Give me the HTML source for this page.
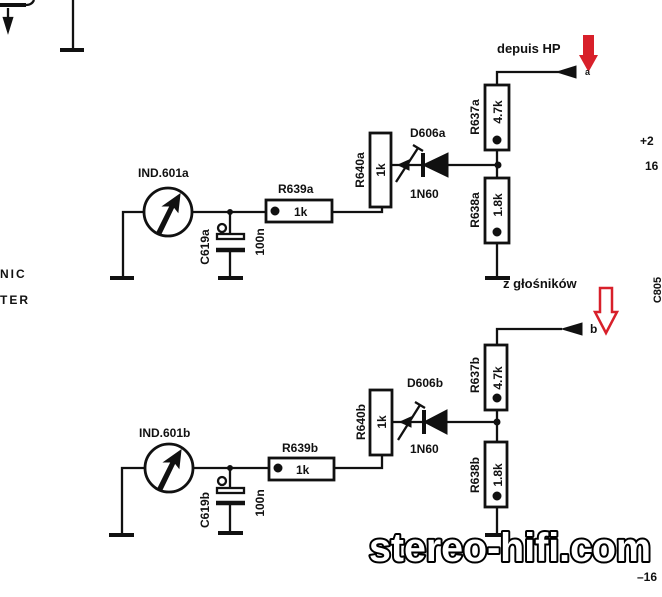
<!DOCTYPE html>
<html><head><meta charset="utf-8"><style>
html,body{margin:0;padding:0;background:#fff;width:662px;height:597px;overflow:hidden}
svg{display:block}
text{font-family:"Liberation Sans",sans-serif;font-weight:bold;fill:#111}
</style></head><body>
<svg width="662" height="597" viewBox="0 0 662 597" xmlns="http://www.w3.org/2000/svg">
<g stroke="#111" stroke-width="2.3" fill="none">
<path d="M0,5 H26" stroke-width="4"/>
<path d="M26,5 q6,0 8,-5" />
<path d="M8,8 V28"/>
<polygon points="4,18 12,18 8,31" fill="#111"/>
<path d="M73,0 V50"/>
<path d="M60,50 H84" stroke-width="4"/>

<path d="M123,278 V212 H144"/>
<path d="M110,278 H134" stroke-width="4"/>
<circle cx="168" cy="212" r="24" stroke-width="2.8"/>
<path d="M192,212 H266"/>
<path d="M230,212 V235"/>
<circle cx="222" cy="228" r="4"/>
<rect x="217" y="234" width="27" height="5" stroke-width="2.3"/>
<path d="M216,250 H245" stroke-width="4.5"/>
<path d="M230,250 V278"/>
<path d="M218,278 H243" stroke-width="4"/>
<rect x="266" y="200" width="66" height="22" stroke-width="2.8"/>
<path d="M332,212 H382 V207"/>
<rect x="370" y="133" width="21" height="74" stroke-width="2.8"/>
<path d="M391,165 H498"/>
<path d="M423,153 V177" stroke-width="4"/>
<path d="M396,182 L418,148 M413,145 L423,151"/>
<path d="M497,85 V72 H560"/>
<path d="M497,150 V178"/>
<rect x="485" y="85" width="24" height="65" stroke-width="2.8"/>
<rect x="485" y="178" width="24" height="65" stroke-width="2.8"/>
<path d="M497,243 V278"/>
<path d="M485,278 H510" stroke-width="4"/>

<path d="M122,535 V468 H144"/>
<path d="M109,535 H134" stroke-width="4"/>
<circle cx="169" cy="468" r="24" stroke-width="2.8"/>
<path d="M193,468 H269"/>
<path d="M230,468 V488"/>
<circle cx="222" cy="481" r="4"/>
<rect x="217" y="488" width="27" height="5" stroke-width="2.3"/>
<path d="M216,503 H245" stroke-width="4.5"/>
<path d="M230,503 V533"/>
<path d="M218,533 H243" stroke-width="4"/>
<rect x="269" y="458" width="65" height="22" stroke-width="2.8"/>
<path d="M334,468 H382 V455"/>
<rect x="370" y="390" width="22" height="65" stroke-width="2.8"/>
<path d="M392,422 H497"/>
<path d="M424,410 V434" stroke-width="4"/>
<path d="M398,440 L420,405 M415,402 L425,408"/>
<path d="M497,345 V329 H562"/>
<path d="M497,410 V442"/>
<rect x="485" y="345" width="22" height="65" stroke-width="2.8"/>
<rect x="485" y="442" width="22" height="65" stroke-width="2.8"/>
<path d="M497,507 V535"/>
<path d="M485,535 H510" stroke-width="4"/>
</g>

<g fill="#111" stroke="#111" stroke-width="1">
<polygon points="157,232 170,206 163,206 180,194 178,212 174,207 161,234"/>
<circle cx="230" cy="212" r="2.5"/>
<circle cx="275" cy="211" r="4"/>
<polygon points="423,165 448,153 448,177"/>
<polygon points="398,165 409,160 409,170"/>
<circle cx="498" cy="165" r="3"/>
<circle cx="497" cy="140" r="4"/>
<circle cx="497" cy="232" r="4"/>
<polygon points="557,72 576,66 576,78"/>
<polygon points="158,488 171,462 164,462 181,450 179,468 175,463 162,490"/>
<circle cx="230" cy="468" r="2.5"/>
<circle cx="278" cy="468" r="4"/>
<polygon points="424,422 447,410 447,434"/>
<polygon points="400,422 411,417 411,427"/>
<circle cx="497" cy="422" r="3"/>
<circle cx="497" cy="398" r="4"/>
<circle cx="497" cy="496" r="4"/>
<polygon points="562,329 582,323 582,335"/>
</g>

<path d="M583,35 H594 V55 L598,55 L588.5,72 L579,55 L583,55 Z" fill="#d8202a"/>
<path d="M600,288 H612 V312 L617,312 L606,333 L595,312 L600,312 Z" fill="#fff" stroke="#d8202a" stroke-width="2.5"/>

<text x="138" y="177" font-size="12">IND.601a</text>
<text x="278" y="193" font-size="12">R639a</text>
<text x="294" y="216" font-size="12">1k</text>
<text transform="translate(364,170) rotate(-90)" font-size="12" text-anchor="middle">R640a</text>
<text transform="translate(385,170) rotate(-90)" font-size="12" text-anchor="middle">1k</text>
<text x="410" y="137" font-size="12">D606a</text>
<text x="410" y="198" font-size="12">1N60</text>
<text transform="translate(479,117) rotate(-90)" font-size="12" text-anchor="middle">R637a</text>
<text transform="translate(502,112) rotate(-90)" font-size="12" text-anchor="middle">4.7k</text>
<text transform="translate(479,210) rotate(-90)" font-size="12" text-anchor="middle">R638a</text>
<text transform="translate(502,205) rotate(-90)" font-size="12" text-anchor="middle">1.8k</text>
<text transform="translate(209,247) rotate(-90)" font-size="12" text-anchor="middle">C619a</text>
<text transform="translate(264,242) rotate(-90)" font-size="12" text-anchor="middle">100n</text>
<text x="497" y="53" font-size="13">depuis HP</text>
<text x="585" y="75" font-size="9">a</text>
<text x="503" y="288" font-size="13">z głośników</text>

<text x="139" y="437" font-size="12">IND.601b</text>
<text x="282" y="452" font-size="12">R639b</text>
<text x="296" y="474" font-size="12">1k</text>
<text transform="translate(365,422) rotate(-90)" font-size="12" text-anchor="middle">R640b</text>
<text transform="translate(386,422) rotate(-90)" font-size="12" text-anchor="middle">1k</text>
<text x="407" y="387" font-size="12">D606b</text>
<text x="410" y="453" font-size="12">1N60</text>
<text transform="translate(479,375) rotate(-90)" font-size="12" text-anchor="middle">R637b</text>
<text transform="translate(502,378) rotate(-90)" font-size="12" text-anchor="middle">4.7k</text>
<text transform="translate(479,475) rotate(-90)" font-size="12" text-anchor="middle">R638b</text>
<text transform="translate(502,475) rotate(-90)" font-size="12" text-anchor="middle">1.8k</text>
<text transform="translate(209,510) rotate(-90)" font-size="12" text-anchor="middle">C619b</text>
<text transform="translate(264,503) rotate(-90)" font-size="12" text-anchor="middle">100n</text>
<text x="590" y="333" font-size="12">b</text>

<text x="0" y="278" font-size="12" letter-spacing="2">NIC</text>
<text x="0" y="304" font-size="12" letter-spacing="2">TER</text>
<text x="640" y="145" font-size="12">+2</text>
<text x="645" y="170" font-size="12">16</text>
<text transform="translate(661,290) rotate(-90)" font-size="11" text-anchor="middle">C805</text>
<text x="637" y="581" font-size="12">–16</text>

<text x="369" y="561" font-size="40" textLength="282" lengthAdjust="spacingAndGlyphs" style="fill:#fff" stroke="#000" stroke-width="4" stroke-linejoin="round" paint-order="stroke">stereo-hifi.com</text>
</svg>
</body></html>
